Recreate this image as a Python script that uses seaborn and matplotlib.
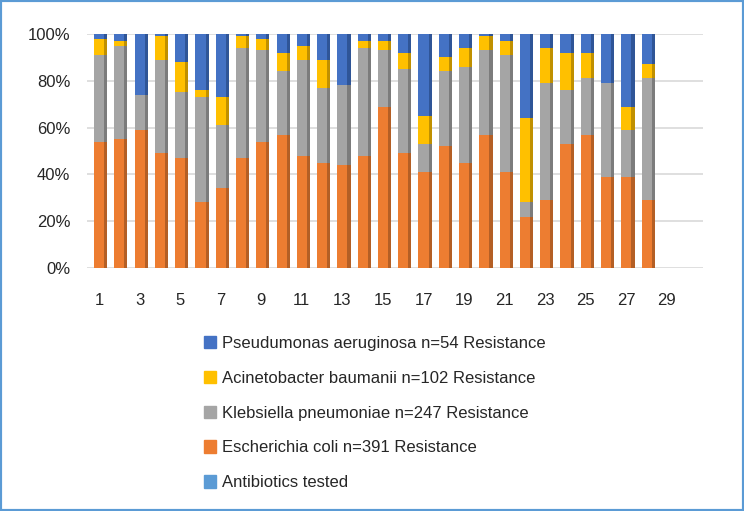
import numpy as np
import pandas as pd
import seaborn as sns
import matplotlib.pyplot as plt
from matplotlib.patches import Patch, Rectangle

# Data (share of resistance per antibiotic, %)
antibiotics = list(range(1, 29))
ecoli  = [54, 55, 59, 49, 47, 28, 34, 47, 54, 57, 48, 45, 44, 48, 69, 49, 41, 52, 45, 57, 41, 22, 29, 53, 57, 39, 39, 29]
kleb   = [37, 40, 15, 40, 28, 45, 27, 47, 39, 27, 41, 32, 34, 46, 24, 36, 12, 32, 41, 36, 50,  6, 50, 23, 24, 40, 20, 52]
acin   = [ 7,  2,  0, 10, 13,  3, 12,  5,  5,  8,  6, 12,  0,  3,  4,  7, 12,  6,  8,  6,  6, 36, 15, 16, 11,  0, 10,  6]
pseudo = [ 2,  3, 26,  1, 12, 24, 27,  1,  2,  8,  5, 11, 22,  3,  3,  8, 35, 10,  6,  1,  3, 36,  6,  8,  8, 21, 31, 13]

series_names = ['Escherichia coli n=391 Resistance',
                'Klebsiella pneumoniae n=247 Resistance',
                'Acinetobacter baumanii n=102 Resistance',
                'Pseudumonas aeruginosa n=54 Resistance']
front = ['#ED7D31', '#A5A5A5', '#FFC000', '#4472C4']
side = ['#B45F25', '#7C7C7C', '#C09000', '#2F5597']

df = pd.DataFrame({'antibiotic': antibiotics, 'e': ecoli, 'k': kleb, 'a': acin, 'p': pseudo})
cols = ['e', 'k', 'a', 'p']
total = df[cols].sum(axis=1)
pct = df[cols].div(total, axis=0) * 100
cum = pct.cumsum(axis=1)
df[[c + '_top' for c in cols]] = cum.values

sns.set_theme(style='white')
plt.rcParams['font.family'] = ['Liberation Sans', 'DejaVu Sans']

fig = plt.figure(figsize=(7.44, 5.11), dpi=100)
ax = fig.add_axes([0.117, 0.4755, 0.828, 0.458])

order = list(range(1, 30))
w, sw = 0.5, 0.15
pos = np.arange(len(antibiotics))

# stacked look: draw cumulative tops from the top series down
for i in range(3, -1, -1):
    sns.barplot(data=df, x='antibiotic', y=cols[i] + '_top', order=order,
                color=front[i], saturation=1, width=w, errorbar=None,
                linewidth=0, ax=ax, zorder=3)
    bottom = cum[cols[i - 1]].values if i > 0 else np.zeros(len(pos))
    ax.bar(pos + w / 2 + sw / 2, pct[cols[i]].values, bottom=bottom, width=sw,
           color=side[i], linewidth=0, zorder=3)

ax.set_ylim(0, 100)
ax.set_xlim(-0.59, 29.78)
ax.set_yticks(range(0, 101, 20))
ax.set_yticklabels([f'{v}%' for v in range(0, 101, 20)])
ax.set_xticks(range(0, 29, 2))
ax.set_xticklabels([str(v) for v in range(1, 30, 2)])
ax.set_xlabel('')
ax.set_ylabel('')
ax.yaxis.grid(True, color='#D9D9D9', linewidth=1.2, zorder=0)
ax.set_axisbelow(True)
for s in ax.spines.values():
    s.set_visible(False)
ax.tick_params(axis='y', length=0, pad=12, labelsize=12, labelcolor='#262626')
ax.tick_params(axis='x', length=0, pad=18, labelsize=12, labelcolor='#262626')

# legend below the plot
handles = [Patch(color=front[3]), Patch(color=front[2]), Patch(color=front[1]),
           Patch(color=front[0]), Patch(color='#5B9BD5')]
labels = [series_names[3], series_names[2], series_names[1], series_names[0], 'Antibiotics tested']
fig.legend(handles, labels, loc='upper left', bbox_to_anchor=(0.2626, 0.359),
           frameon=False, fontsize=12, handlelength=0.75, handleheight=0.75,
           handletextpad=0.35, labelspacing=1.19, borderpad=0, labelcolor='#262626')

fig.patches.append(Rectangle((0, 0), 1, 1, transform=fig.transFigure, fill=False,
                             edgecolor='#5B9BD5', linewidth=3))

fig.savefig('out.png', dpi=100)
